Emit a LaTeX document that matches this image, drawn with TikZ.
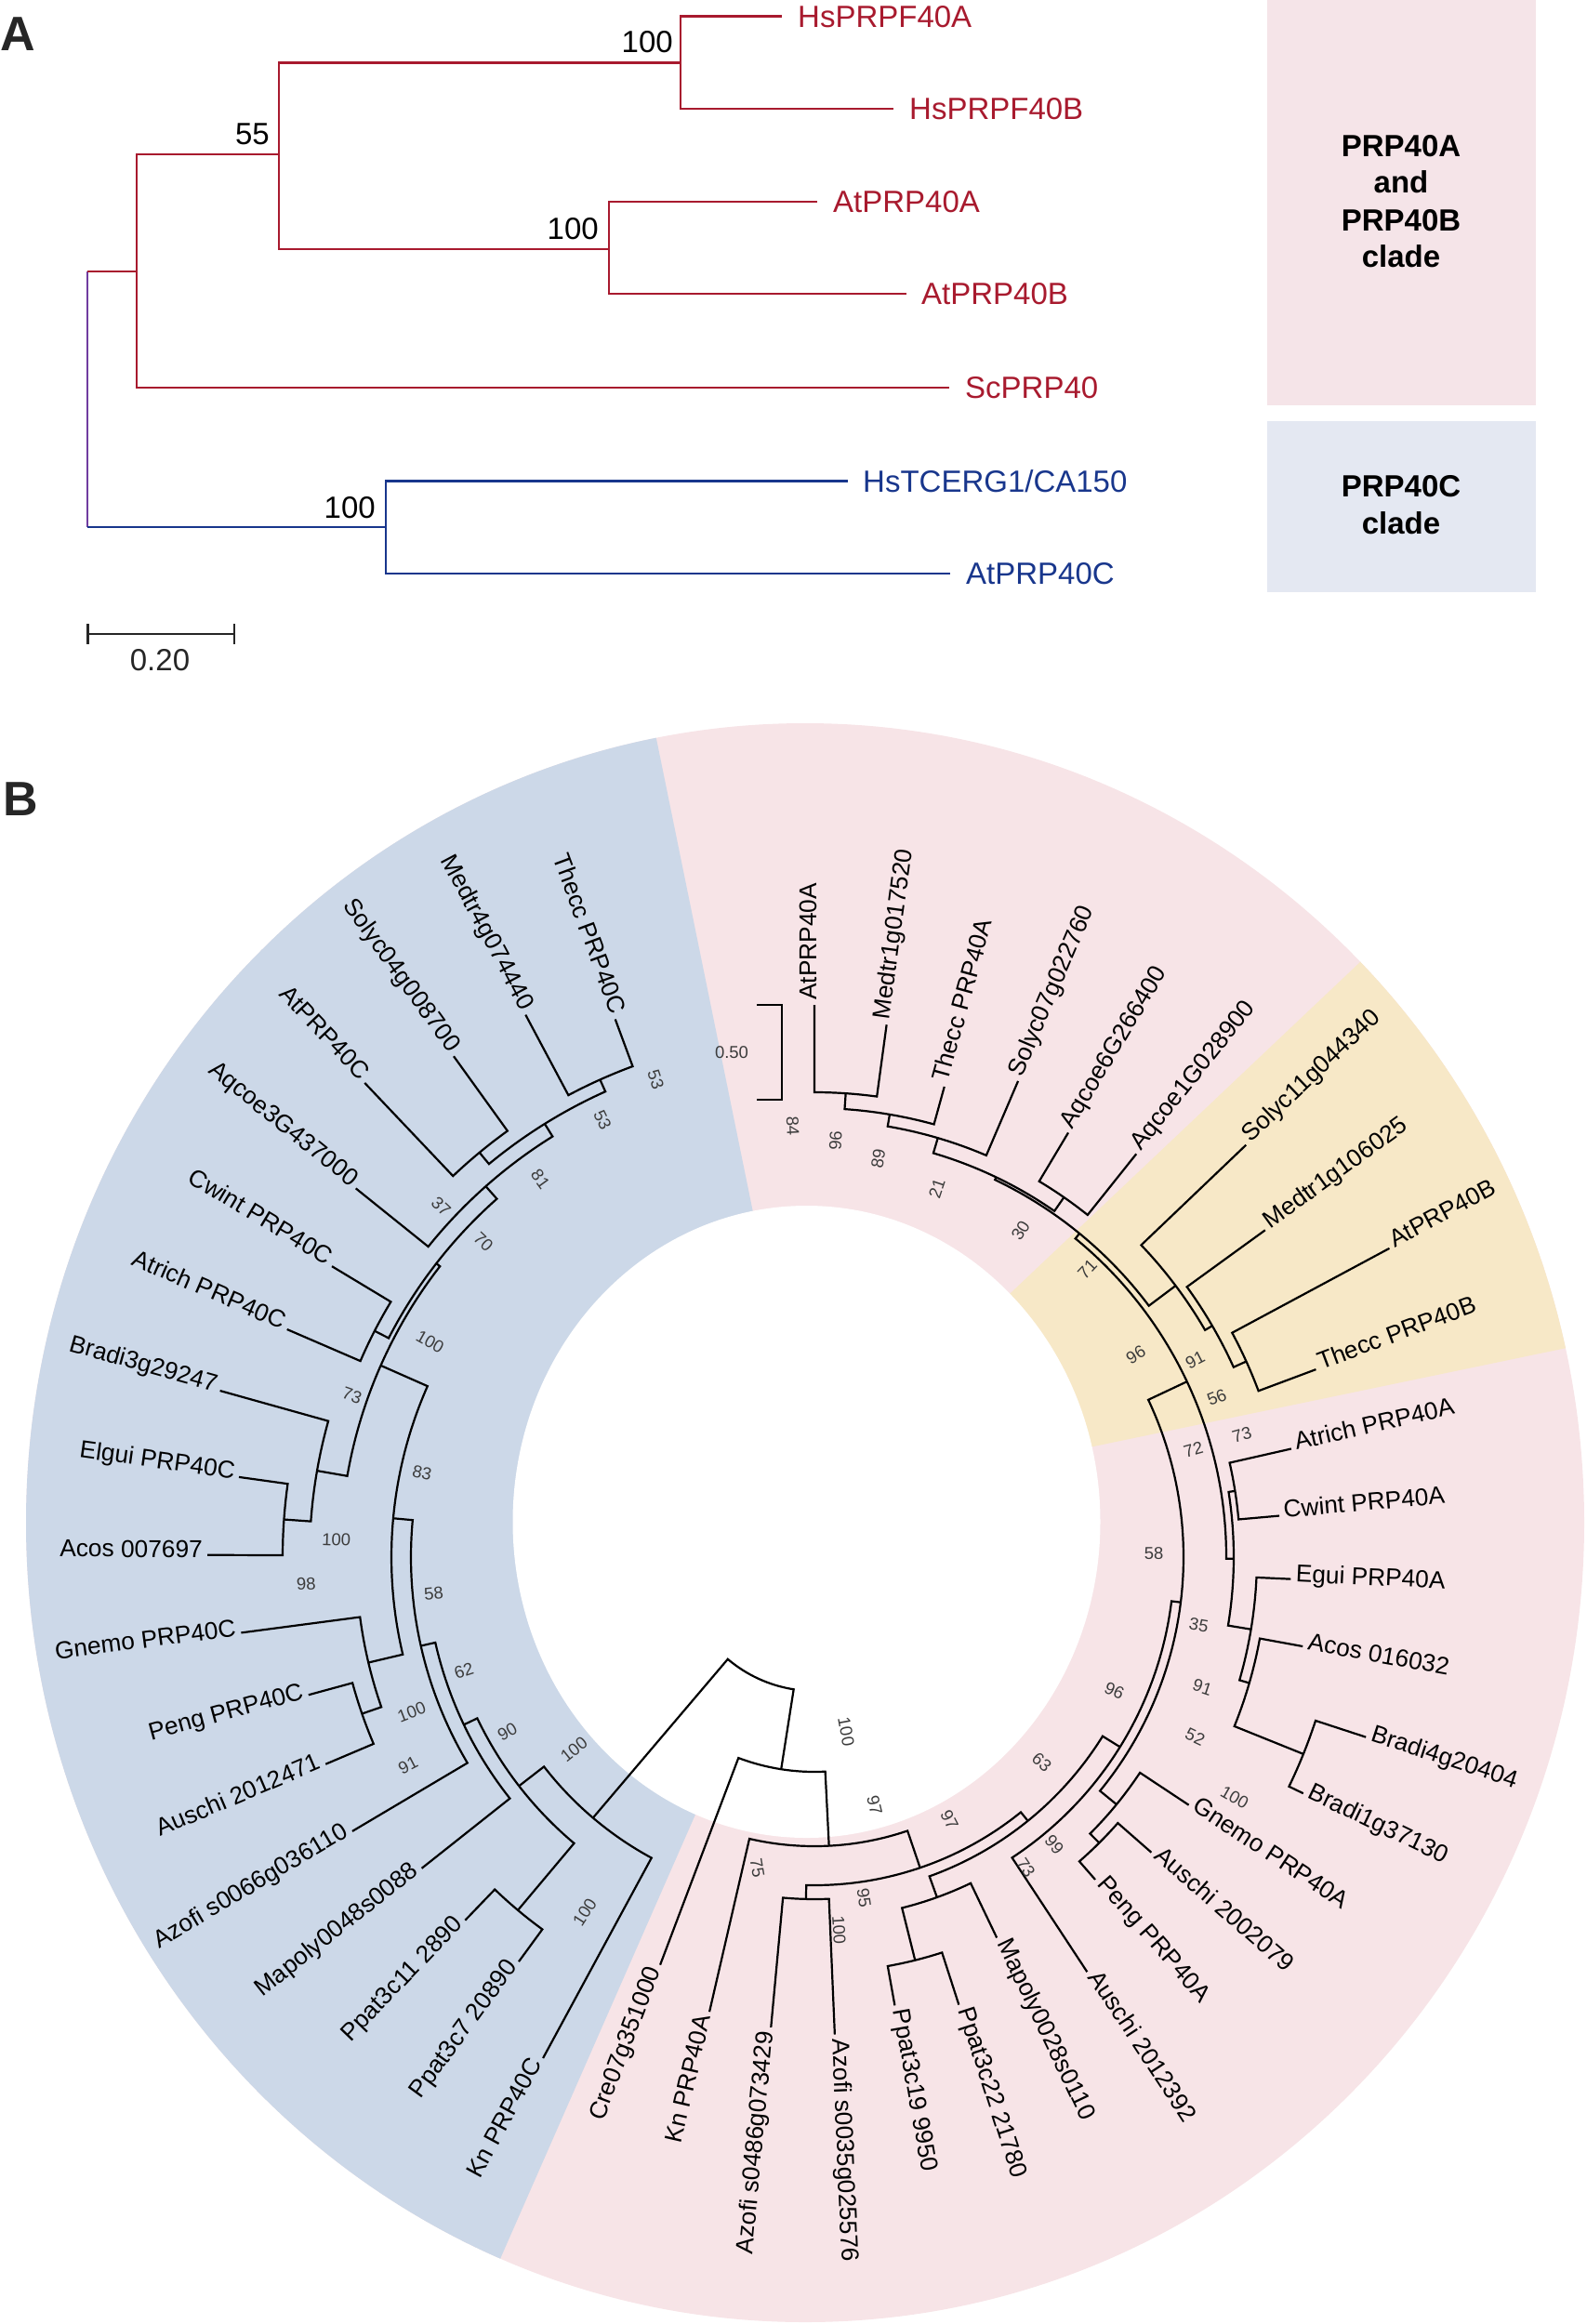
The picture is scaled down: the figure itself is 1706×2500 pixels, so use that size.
\documentclass[tikz,border=0pt]{standalone}
\usepackage{fontspec}
\setmainfont{Liberation Sans}
\definecolor{redA}{RGB}{168,26,46}
\definecolor{blueA}{RGB}{24,54,140}
\definecolor{purpA}{RGB}{112,60,160}
\definecolor{pinkbg}{RGB}{247,228,231}
\definecolor{bluebg}{RGB}{204,216,232}
\definecolor{yellowbg}{RGB}{247,232,199}
\definecolor{pinkbox}{RGB}{245,228,232}
\definecolor{bluebox}{RGB}{228,232,242}
\definecolor{bsgray}{RGB}{60,60,60}
\newcommand\fs[1]{\fontsize{#1}{#1}\selectfont}
% clade: #1 node radius, #2 angle a, #3 radius a, #4 angle b, #5 radius b
\newcommand\cl[5]{\draw[br] (#2:#3) -- (#2:#1) arc[start angle=#2,end angle=#4,radius=#1] -- (#4:#5);}
% leaf label: #1 index, #2 tip radius, #3 text
\newcommand\lf[3]{%
  \pgfmathsetmacro\LA{90-7.72*#1}%
  \pgfmathsetmacro\LR{#2+5}%
  \pgfmathtruncatemacro\LS{cos(\LA)>-0.01}%
  \ifnum\LS=1
    \node[leaf,anchor=mid west,rotate=\LA] (L#1) at (\LA:\LR) {#3};%
  \else
    \pgfmathsetmacro\LB{\LA+180}%
    \node[leaf,anchor=mid east,rotate=\LB] (L#1) at (\LA:\LR) {#3};%
  \fi}
% bootstrap: #1 name, #2 x, #3 y (image), #4 rotation, #5 text
\newcommand\bs[5]{\node[bsl,rotate=#4] (#1) at (#2,-#3) {#5};}
\begin{document}
\begin{tikzpicture}[x=1pt,y=1pt,
  br/.style={line width=2.2pt,black},
  lineA/.style={line width=2.8pt},
  leaf/.style={font=\fs{26.3},inner sep=0pt},
  bsl/.style={font=\fs{18.5},text=bsgray,inner sep=0pt},
  albl/.style={font=\fs{33},inner sep=0pt},
  boxt/.style={font=\fs{33}\bfseries,inner sep=0pt},
  panel/.style={font=\fs{52}\bfseries,inner sep=0pt,text=black!85}]
\useasboundingbox (0,0) rectangle (1706,-2500);
\clip (0,0) rectangle (1706,-2500);

% ================= Panel A =================
\node[panel,anchor=base west] (pA) at (0,-54) {A};
\fill[pinkbox] (1363,0) rectangle (1651.5,-436);
\fill[bluebox] (1363,-453) rectangle (1651.5,-637);
\node[boxt,anchor=base] (t1) at (1507,-168.5) {PRP40A};
\node[boxt,anchor=base] (t2) at (1507,-207.6) {and};
\node[boxt,anchor=base] (t3) at (1507,-248) {PRP40B};
\node[boxt,anchor=base] (t4) at (1507,-287) {clade};
\node[boxt,anchor=base] (t5) at (1507,-534) {PRP40C};
\node[boxt,anchor=base] (t6) at (1507,-574) {clade};

\coordinate (aR) at (94,-292);
\coordinate (aB) at (94,-567);
\draw[lineA,purpA] (aR) -- (aB);
\draw[lineA,redA] (aR) -- (147,-292);
\draw[lineA,redA] (300,-166) -- (147,-166) -- (147,-417) -- (1021,-417);
\draw[lineA,redA] (732,-67.5) -- (300,-67.5) -- (300,-268) -- (655,-268);
\draw[lineA,redA] (841,-17.4) -- (732,-17.4) -- (732,-117) -- (961,-117);
\draw[lineA,redA] (879,-217) -- (655,-217) -- (655,-316) -- (975,-316);
\draw[lineA,blueA] (aB) -- (415,-567);
\draw[lineA,blueA] (912,-517.5) -- (415,-517.5) -- (415,-617) -- (1022,-617);

\node[albl,text=redA,anchor=base west] (hsA) at (858,-29) {HsPRPF40A};
\node[albl,text=redA,anchor=base west] (hsB) at (978,-128.5) {HsPRPF40B};
\node[albl,text=redA,anchor=base west] (atA) at (896,-228.5) {AtPRP40A};
\node[albl,text=redA,anchor=base west] (atB) at (991,-327.5) {AtPRP40B};
\node[albl,text=redA,anchor=base west] (scP) at (1038,-428.5) {ScPRP40};
\node[albl,text=blueA,anchor=base west] (hsT) at (928,-529) {HsTCERG1/CA150};
\node[albl,text=blueA,anchor=base west] (atC) at (1039,-628.5) {AtPRP40C};

\node[albl,anchor=base east] (bA1) at (724,-56) {100};
\node[albl,anchor=base east] (bA2) at (290,-155) {55};
\node[albl,anchor=base east] (bA3) at (644,-257) {100};
\node[albl,anchor=base east] (bA4) at (404,-557) {100};

\draw[line width=2.8pt,black!85] (94.4,-682) -- (252,-682);
\draw[line width=2.5pt,black!85] (94.4,-671) -- (94.4,-693) (252,-671) -- (252,-693);
\node[albl,anchor=base,text=black!85] (sA) at (172,-721) {0.20};

% ================= Panel B =================
\node[panel,anchor=base west] (pB) at (3,-877) {B};
\begin{scope}
  \clip (866,-1638) ellipse [x radius=838, y radius=860];
  \fill[pinkbg] (0,-700) rectangle (1800,-2600);
  \fill[bluebg] (882,-1657) -- (653,-535) -- (-200,-535) -- (-200,-2669) -- (433,-2669) -- (874,-1665) -- cycle;
  \fill[yellowbg] (975,-1497) -- (1691,-819) -- (1973,-819) -- (1973,-1390) -- (1013,-1590) -- cycle;
  \fill[white] (867.5,-1637) ellipse [x radius=316, y radius=340];
\end{scope}

\begin{scope}[shift={(876,-1675)}]
% PRP40A / PRP40B side
\cl{500}{90}{594}{82.28}{578}
\cl{483}{86.14}{500}{74.56}{525}
\cl{470}{80.35}{483}{66.84}{557}
\cl{471}{59.12}{532}{51.40}{555}
\cl{453}{73.595}{470}{55.26}{471}
\cl{510}{28.24}{702}{20.52}{576}
\cl{495}{35.96}{599}{24.38}{510}
\cl{486}{43.68}{642}{30.17}{495}
\cl{450}{64.43}{453}{36.925}{486}
\cl{458}{12.80}{526}{5.08}{502}
\cl{567}{-18.08}{624}{-25.80}{584}
\cl{487}{-10.36}{534}{-21.94}{567}
\cl{476}{-2.64}{513}{-16.15}{487}
\cl{451}{8.94}{458}{-9.395}{476}
\cl{443}{50.68}{450}{-0.2275}{451}
\cl{434}{-41.24}{482}{-48.96}{460}
\cl{420}{-33.52}{483}{-45.10}{434}
\cl{397}{25.23}{443}{-39.31}{420}
\cl{387}{-7.04}{397}{-56.68}{534}
\cl{447}{-72.12}{506}{-79.84}{490}
\cl{389}{-64.40}{454}{-75.98}{447}
\cl{365}{-31.86}{387}{-70.19}{389}
\cl{368}{-87.56}{514}{-95.28}{508}
\cl{353}{-91.42}{368}{-51.025}{365}
\cl{311}{-103.00}{502}{-71.22}{353}
\cl{231}{-110.72}{469}{-87.11}{311}
% PRP40C side
\cl{563}{-241.96}{661}{-249.68}{617}
\cl{565}{-226.52}{703}{-234.24}{664}
\cl{549}{-230.38}{565}{-245.82}{563}
\cl{533}{-218.80}{633}{-238.10}{549}
\cl{532}{-203.36}{618}{-211.08}{606}
\cl{515}{-207.22}{532}{-228.45}{533}
\cl{572}{-180.20}{653}{-187.92}{625}
\cl{543}{-195.64}{664}{-184.06}{572}
\cl{510}{-189.85}{543}{-217.835}{515}
\cl{515}{-157.04}{571}{-164.76}{564}
\cl{493}{-172.48}{622}{-160.90}{515}
\cl{455}{-203.84}{510}{-166.69}{493}
\cl{434}{-185.265}{455}{-149.32}{578}
\cl{418}{-167.29}{434}{-141.60}{539}
\cl{496}{-126.16}{539}{-133.88}{542}
\cl{402}{-154.445}{418}{-130.02}{496}
\cl{368}{-142.23}{402}{-118.44}{613}
% root
\cl{144}{-130.335}{368}{-98.915}{231}

\lf{0}{594}{AtPRP40A}
\lf{1}{578}{Medtr1g017520}
\lf{2}{525}{Thecc PRP40A}
\lf{3}{557}{Solyc07g022760}
\lf{4}{532}{Aqcoe6G266400}
\lf{5}{555}{Aqcoe1G028900}
\lf{6}{642}{Solyc11g044340}
\lf{7}{599}{Medtr1g106025}
\lf{8}{702}{AtPRP40B}
\lf{9}{576}{Thecc PRP40B}
\lf{10}{526}{Atrich PRP40A}
\lf{11}{502}{Cwint PRP40A}
\lf{12}{513}{Egui PRP40A}
\lf{13}{534}{Acos 016032}
\lf{14}{624}{Bradi4g20404}
\lf{15}{584}{Bradi1g37130}
\lf{16}{483}{Gnemo PRP40A}
\lf{17}{482}{Auschi 2002079}
\lf{18}{460}{Peng PRP40A}
\lf{19}{534}{Auschi 2012392}
\lf{20}{454}{Mapoly0028s0110}
\lf{21}{506}{Ppat3c22 21780}
\lf{22}{490}{Ppat3c19 9950}
\lf{23}{514}{Azofi s0035g025576}
\lf{24}{508}{Azofi s0486g073429}
\lf{25}{502}{Kn PRP40A}
\lf{26}{469}{Cre07g351000}
\lf{27}{613}{Kn PRP40C}
\lf{28}{539}{Ppat3c7 20890}
\lf{29}{542}{Ppat3c11 2890}
\lf{30}{539}{Mapoly0048s0088}
\lf{31}{578}{Azofi s0066g036110}
\lf{32}{571}{Auschi 2012471}
\lf{33}{564}{Peng PRP40C}
\lf{34}{622}{Gnemo PRP40C}
\lf{35}{653}{Acos 007697}
\lf{36}{625}{Elgui PRP40C}
\lf{37}{664}{Bradi3g29247}
\lf{38}{618}{Atrich PRP40C}
\lf{39}{606}{Cwint PRP40C}
\lf{40}{633}{Aqcoe3G437000}
\lf{41}{703}{AtPRP40C}
\lf{42}{664}{Solyc04g008700}
\lf{43}{661}{Medtr4g074440}
\lf{44}{617}{Thecc PRP40C}
\end{scope}

% scale bar B
\draw[br] (814,-1081) -- (841,-1081) -- (841,-1183) -- (814,-1183);
\node[bsl] (sB) at (787,-1132) {0.50};

% bootstrap values B
\bs{b1}{852.8}{1211.0}{-87.1}{84}
\bs{b2}{898.7}{1226.8}{87.1}{96}
\bs{b3}{944.6}{1246.6}{80.9}{89}
\bs{b4}{1007.8}{1278.2}{71.6}{21}
\bs{b5}{1097.7}{1323.7}{57.7}{30}
\bs{b6}{705.4}{1161.6}{-71.6}{53}
\bs{b7}{648.0}{1205.0}{-64.1}{53}
\bs{b8}{581.2}{1268.3}{-54.1}{81}
\bs{b9}{474.5}{1298.0}{-43.2}{37}
\bs{b10}{520.0}{1335.5}{-43.6}{70}
\bs{b11}{462.6}{1443.8}{-29.2}{100}
\bs{b12}{378.8}{1501.2}{-19.3}{73}
\bs{b13}{453.9}{1584.2}{-12.1}{83}
\bs{b14}{361.8}{1656.2}{-2.1}{100}
\bs{b15}{329.4}{1704.0}{3.0}{98}
\bs{b16}{466.6}{1714.3}{5.5}{58}
\bs{b17}{499.0}{1797.0}{17.9}{62}
\bs{b18}{442.8}{1841.8}{21.1}{100}
\bs{b19}{545.7}{1862.8}{29.6}{90}
\bs{b20}{438.9}{1899.2}{27.2}{91}
\bs{b21}{617.4}{1882.0}{38.7}{100}
\bs{b22}{910.2}{1862.8}{-79.7}{100}
\bs{b23}{1120.6}{1895.3}{-42.0}{63}
\bs{b24}{940.8}{1942.1}{-76.4}{97}
\bs{b25}{1021.2}{1957.4}{-62.8}{97}
\bs{b26}{814.5}{2009.1}{-80.4}{75}
\bs{b27}{929.3}{2041.6}{-81.7}{95}
\bs{b28}{902.5}{2076.0}{-86.2}{100}
\bs{b29}{1134.1}{1984.2}{-50.1}{99}
\bs{b30}{1103.4}{2009.1}{-55.8}{73}
\bs{b31}{628.9}{2056.9}{57.1}{100}
\bs{b32}{1169.6}{1365.3}{46.5}{71}
\bs{b33}{1221.7}{1457.2}{32.2}{96}
\bs{b34}{1285.5}{1462.9}{27.4}{91}
\bs{b35}{1308.7}{1503.1}{21.7}{56}
\bs{b36}{1283.6}{1559.7}{15.8}{72}
\bs{b37}{1335.8}{1543.3}{16.0}{73}
\bs{b38}{1241.1}{1671.5}{0.5}{58}
\bs{b39}{1289.4}{1748.0}{-10.0}{35}
\bs{b40}{1198.6}{1818.8}{-24.0}{96}
\bs{b41}{1293.3}{1815.0}{-18.5}{91}
\bs{b42}{1285.5}{1868.6}{-25.3}{52}
\bs{b43}{1328.0}{1933.6}{-29.8}{100}
\end{tikzpicture}
\end{document}
